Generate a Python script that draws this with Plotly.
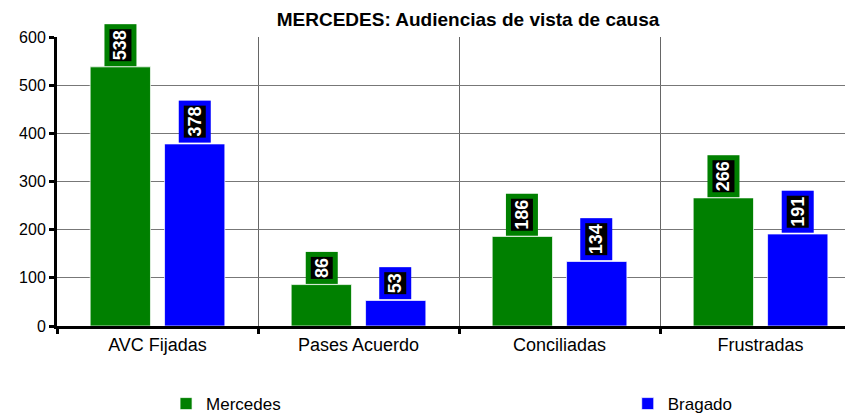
import plotly.graph_objects as go

# datos de audiencias
categorias = ["AVC Fijadas", "Pases Acuerdo", "Conciliadas", "Frustradas"]
mercedes = [538, 86, 186, 266]
bragado = [378, 53, 134, 191]

ancho = 0.30
off_merc = -0.335
off_brag = 0.035

# la pagina deja 8px de margen en el body
W, H = 845, 406

fig = go.Figure()
fig.add_trace(go.Bar(x=categorias, y=mercedes, name="Mercedes",
                     marker=dict(color="#008000", line=dict(color="rgba(255,255,255,0.7)", width=1)),
                     width=ancho, offset=off_merc, legend="legend"))
fig.add_trace(go.Bar(x=categorias, y=bragado, name="Bragado",
                     marker=dict(color="#0000FF", line=dict(color="rgba(255,255,255,0.7)", width=1)),
                     width=ancho, offset=off_brag, legend="legend2"))

# etiquetas de valor (caja negra con borde del color de la serie)
for serie, off, col in [(mercedes, off_merc, "#008000"), (bragado, off_brag, "#0000FF")]:
    for i, v in enumerate(serie):
        fig.add_annotation(x=i + off + ancho / 2, y=v, text="<b>%d</b>" % v, showarrow=False,
                           textangle=-90, yanchor="bottom", yshift=1,
                           font=dict(color="white", size=18, family="Liberation Sans"),
                           bgcolor="black", bordercolor=col, borderwidth=5, borderpad=1)

fig.update_layout(
    width=W, height=H,
    margin=dict(l=49, r=0, t=29, b=88, autoexpand=False),
    paper_bgcolor="white", plot_bgcolor="white",
    font=dict(family="Liberation Sans", size=17, color="black"),
    title=dict(text="<b>MERCEDES: Audiencias de vista de causa</b>",
               x=460 / W, xanchor="center", xref="container",
               y=1 - 11 / H, yanchor="middle", yref="container",
               font=dict(size=19)),
    showlegend=True,
    legend=dict(orientation="h", x=0.137, xanchor="left", y=-0.27, yanchor="middle",
                font=dict(size=17)),
    legend2=dict(orientation="h", x=0.717, xanchor="left", y=-0.27, yanchor="middle",
                 font=dict(size=17)),
    xaxis=dict(range=[-0.5, 3.46], tickson="boundaries", ticks="outside", ticklen=5,
               tickwidth=3, tickcolor="black", showgrid=True, gridcolor="#666666", gridwidth=1,
               showline=True, linecolor="black", linewidth=3, automargin=False,
               tickfont=dict(size=18)),
    yaxis=dict(range=[0, 600], dtick=100, ticks="outside", ticklen=5, tickwidth=3,
               tickcolor="black", showline=True, linecolor="black", linewidth=3,
               showgrid=True, gridcolor="#777777", gridwidth=1, zeroline=False,
               automargin=False, tickfont=dict(size=16)),
)

fig.write_html("out.html")
